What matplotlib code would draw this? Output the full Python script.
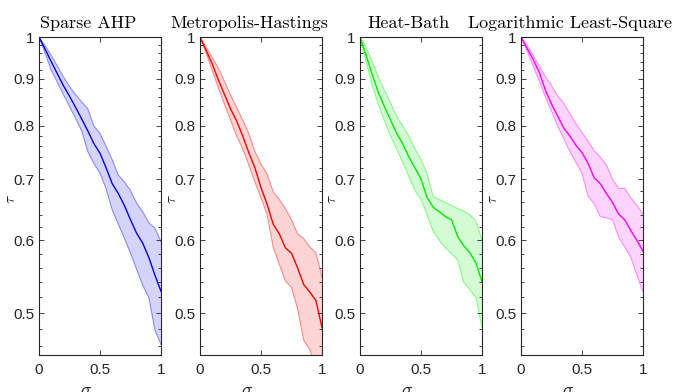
import matplotlib
matplotlib.use('Agg')
import matplotlib.pyplot as plt
from matplotlib.ticker import FixedLocator, FixedFormatter, NullFormatter

plt.rcParams['mathtext.fontset'] = 'cm'
plt.rcParams['font.family'] = ['Liberation Sans', 'DejaVu Sans']

sigma = [0.0, 0.05, 0.1, 0.15, 0.2, 0.25, 0.3, 0.35, 0.4, 0.45, 0.5,
         0.55, 0.6, 0.65, 0.7, 0.75, 0.8, 0.85, 0.9, 0.95, 1.0]

titles = ["Sparse AHP", "Metropolis-Hastings", "Heat-Bath", "Logarithmic Least-Square"]
colors = ['#0000ff', '#ff0000', '#00ee00', '#ff00ff']

# mean / upper / lower of tau for each method
ahp_mean = [1.0, 0.970, 0.940, 0.912, 0.885, 0.862, 0.838, 0.814, 0.790, 0.765, 0.747,
            0.720, 0.692, 0.675, 0.655, 0.632, 0.611, 0.596, 0.575, 0.550, 0.528]
ahp_upper = [1.0, 0.978, 0.955, 0.930, 0.905, 0.883, 0.865, 0.850, 0.835, 0.800, 0.785,
             0.760, 0.735, 0.707, 0.695, 0.680, 0.659, 0.645, 0.627, 0.619, 0.598]
ahp_lower = [1.0, 0.960, 0.920, 0.893, 0.865, 0.840, 0.815, 0.790, 0.750, 0.728, 0.710,
             0.683, 0.648, 0.625, 0.603, 0.581, 0.558, 0.536, 0.520, 0.479, 0.462]

mh_mean = [1.0, 0.967, 0.935, 0.898, 0.866, 0.835, 0.810, 0.780, 0.748, 0.720, 0.685,
           0.657, 0.625, 0.610, 0.589, 0.581, 0.560, 0.537, 0.527, 0.516, 0.482]
mh_upper = [1.0, 0.975, 0.950, 0.925, 0.895, 0.865, 0.838, 0.812, 0.785, 0.750, 0.727,
            0.709, 0.678, 0.665, 0.650, 0.632, 0.610, 0.603, 0.590, 0.582, 0.548]
mh_lower = [1.0, 0.960, 0.920, 0.880, 0.845, 0.812, 0.780, 0.755, 0.725, 0.695, 0.668,
            0.640, 0.590, 0.565, 0.542, 0.533, 0.505, 0.467, 0.456, 0.435, 0.415]

hb_mean = [1.0, 0.955, 0.910, 0.870, 0.840, 0.812, 0.785, 0.765, 0.740, 0.720, 0.700,
           0.668, 0.652, 0.645, 0.637, 0.632, 0.606, 0.592, 0.582, 0.567, 0.541]
hb_upper = [1.0, 0.975, 0.940, 0.905, 0.875, 0.848, 0.820, 0.800, 0.780, 0.755, 0.735,
            0.710, 0.670, 0.665, 0.660, 0.655, 0.650, 0.646, 0.640, 0.630, 0.601]
hb_lower = [1.0, 0.940, 0.885, 0.845, 0.810, 0.780, 0.755, 0.730, 0.705, 0.680, 0.665,
            0.640, 0.614, 0.600, 0.589, 0.580, 0.572, 0.540, 0.530, 0.520, 0.482]

lls_mean = [1.0, 0.972, 0.945, 0.915, 0.875, 0.845, 0.820, 0.796, 0.780, 0.762, 0.748,
            0.728, 0.702, 0.692, 0.675, 0.660, 0.641, 0.632, 0.615, 0.600, 0.584]
lls_upper = [1.0, 0.980, 0.955, 0.930, 0.905, 0.885, 0.863, 0.847, 0.825, 0.805, 0.787,
             0.770, 0.752, 0.740, 0.725, 0.700, 0.684, 0.684, 0.668, 0.655, 0.642]
lls_lower = [1.0, 0.965, 0.930, 0.895, 0.860, 0.830, 0.800, 0.775, 0.750, 0.730, 0.710,
             0.670, 0.658, 0.637, 0.635, 0.632, 0.605, 0.590, 0.575, 0.550, 0.527]

means = [ahp_mean, mh_mean, hb_mean, lls_mean]
uppers = [ahp_upper, mh_upper, hb_upper, lls_upper]
lowers = [ahp_lower, mh_lower, hb_lower, lls_lower]

yticks = [0.5, 0.6, 0.7, 0.8, 0.9, 1.0]
ytick_labels = ['0.5', '0.6', '0.7', '0.8', '0.9', '1']
yminor = [0.46, 0.48, 0.52, 0.54, 0.56, 0.58, 0.62, 0.64, 0.66, 0.68, 0.72, 0.74, 0.76,
          0.78, 0.82, 0.84, 0.86, 0.88, 0.92, 0.94, 0.96, 0.98]
xticks = [0, 0.5, 1]
xtick_labels = ['0', '0.5', '1']

fig = plt.figure(figsize=(6.77, 3.92), dpi=100)
lefts = [39, 200, 360, 521]
W, H = 677.0, 392.0
axcol = '#262626'

for i in range(4):
    ax = fig.add_axes([lefts[i] / W, 1 - 355 / H, 122 / W, 318 / H])
    c = colors[i]
    ax.fill_between(sigma, lowers[i], uppers[i], facecolor=c, alpha=0.17, linewidth=0)
    ax.plot(sigma, uppers[i], color=c, alpha=0.4, linewidth=0.8)
    ax.plot(sigma, lowers[i], color=c, alpha=0.4, linewidth=0.8)
    ax.plot(sigma, means[i], color=c, linewidth=1.0)
    ax.set_yscale('log')
    ax.set_xlim(0, 1)
    ax.set_ylim(0.45, 1.0)
    ax.yaxis.set_major_locator(FixedLocator(yticks))
    ax.yaxis.set_major_formatter(FixedFormatter(ytick_labels))
    ax.yaxis.set_minor_locator(FixedLocator(yminor))
    ax.yaxis.set_minor_formatter(NullFormatter())
    ax.set_xticks(xticks)
    ax.set_xticklabels(xtick_labels)
    ax.tick_params(which='both', direction='in', top=True, right=True, colors=axcol,
                   labelsize=11, width=0.6)
    ax.tick_params(which='major', length=3.5)
    ax.tick_params(which='minor', length=2)
    ax.tick_params(axis='y', pad=3.5)
    ax.tick_params(axis='x', pad=6)
    for s in ax.spines.values():
        s.set_color(axcol)
        s.set_linewidth(0.8)
    ax.set_title(titles[i], fontfamily='cmr10', fontsize=13, x=0.4, pad=6.5)
    ax.set_ylabel(r'$\tau$', fontsize=11, color=axcol)
    ax.yaxis.set_label_coords(-0.175, 0.49)
    ax.set_xlabel(r'$\sigma$', fontsize=13, color=axcol)
    ax.xaxis.set_label_coords(0.39, -0.085)

fig.savefig('out.png', dpi=100)
